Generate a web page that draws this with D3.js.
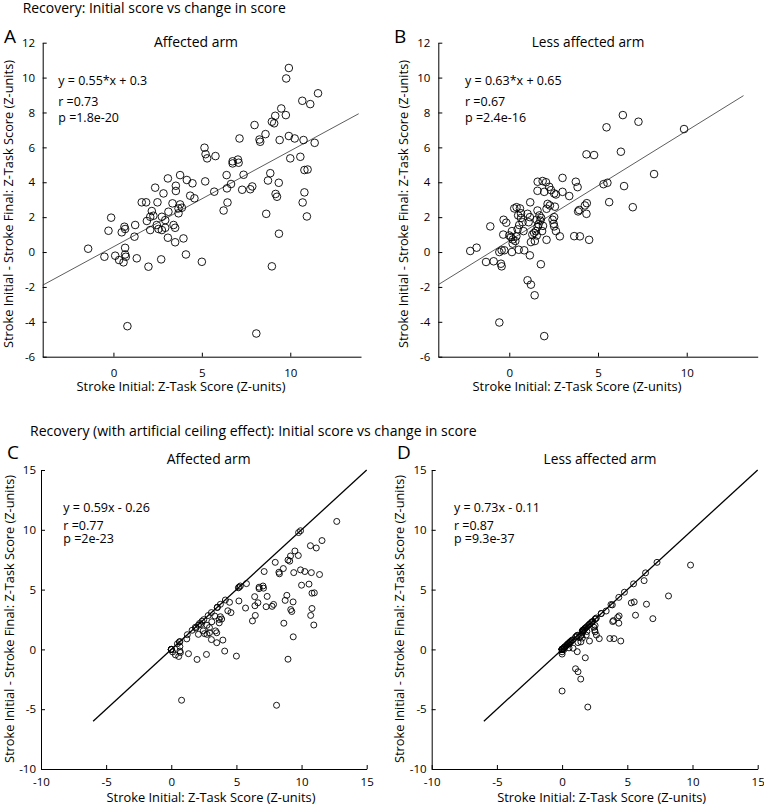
<!DOCTYPE html>
<html><head><meta charset="utf-8">
<script src="https://cdn.jsdelivr.net/npm/d3@7"></script>
<style>
body{margin:0;background:#fff}
svg{display:block}
text{font-family:"Open Sans",sans-serif;fill:#000}
</style>
</head><body>
<svg id="chart" width="764" height="805"></svg>
<script>
// ---------------- DATA ----------------
const affectedPts = [
[9.92,10.55],[9.77,9.95],[11.57,9.1],[10.68,8.67],[11.13,8.48],[9.49,8.23],[9.15,7.81],[9.75,7.85],[8.96,7.47],[9.09,7.38],
[7.98,7.28],[8.6,6.76],[8.26,6.45],[8.3,6.32],[7.13,6.51],[9.92,6.65],[10.25,6.51],[9.4,6.42],[10.75,6.42],[11.38,6.26],
[5.15,5.98],[5.21,5.61],[5.3,5.37],[5.77,5.5],[10.0,5.37],[10.57,5.46],[6.74,5.2],[7.04,5.3],[6.74,5.08],[7.08,5.12],
[10.8,4.7],[10.98,4.73],[6.4,4.41],[7.36,4.43],[8.87,4.52],[3.77,4.41],[3.08,4.22],[4.15,4.13],[4.47,3.94],[5.19,4.05],
[6.65,3.9],[6.42,3.65],[8.74,4.1],[9.35,3.97],[7.28,3.57],[7.74,3.6],[7.85,3.76],[2.36,3.69],[2.83,3.36],[3.53,3.8],
[3.53,3.5],[4.34,3.23],[4.58,3.08],[5.7,3.46],[10.8,3.42],[9.17,3.33],[9.25,3.17],
[1.6,2.85],[1.85,2.85],[2.49,2.85],[3.34,2.79],[3.77,2.73],[3.87,2.54],[3.68,2.5],[6.45,2.84],[6.23,2.38],[10.7,2.84],
[10.94,2.04],[8.64,2.19],[2.17,2.35],[3.68,2.22],[3.11,2.31],[2.08,2.02],[2.26,2.08],[2.74,2.02],[2.93,1.83],[-0.13,1.97],
[-0.28,1.22],[0.62,1.45],[0.66,1.32],[0.47,1.13],[1.23,1.55],[1.89,1.78],[2.45,1.55],[2.55,1.32],[2.93,1.39],[3.4,1.55],
[3.49,1.39],[2.08,1.26],[2.74,1.26],[1.19,0.88],[3.08,0.82],[3.49,0.56],[3.96,0.78],[9.36,1.05],
[-1.43,0.19],[0.66,0.24],[0.66,-0.14],[0.7,-0.27],[-0.51,-0.27],[0.1,-0.21],[0.32,-0.46],[0.57,-0.59],[1.32,-0.36],[2.7,-0.42],
[1.98,-0.84],[4.1,-0.14],[5.0,-0.56],[8.96,-0.82],[0.79,-4.25],[8.08,-4.67]
];
const lessAffectedPts = [
[9.85,7.05],[6.4,7.85],[7.28,7.47],[5.48,7.15],[4.35,5.6],[4.78,5.56],[6.29,5.75],[8.16,4.47],[5.31,3.89],[5.53,3.97],
[6.47,3.78],[3.0,4.25],[3.75,4.03],[3.85,3.72],[1.6,4.03],[1.88,4.07],[2.07,4.0],[1.59,3.51],[1.97,3.45],[2.25,3.74],
[2.35,3.55],[2.53,3.36],[2.63,3.3],[3.0,3.45],[3.38,3.21],
[5.63,2.86],[6.96,2.57],[4.37,2.8],[4.26,2.67],[3.94,2.41],[3.88,2.33],[4.35,2.19],[3.66,0.91],[3.98,0.9],[4.5,0.7],
[2.85,0.9],[2.63,1.2],[2.5,1.62],[2.53,1.47],[2.44,1.85],[2.53,2.0],[2.1,0.7],[2.16,2.76],[2.29,2.67],[2.1,2.48],
[2.57,2.6],[1.18,2.85],
[1.7,2.1],[1.8,1.95],[1.75,1.8],[1.65,1.6],[1.6,1.45],[1.9,1.5],[1.85,1.2],[1.5,1.2],[1.4,1.1],[1.3,1.0],[1.55,0.95],
[1.59,2.38],[1.54,1.85],[1.03,2.19],[1.16,2.0],[1.09,1.71],[1.22,0.57],[1.44,0.63],[1.16,-0.19],[1.78,-0.7],
[0.28,2.5],[0.41,2.57],[0.6,2.5],[0.66,2.22],[0.5,2.1],[0.66,1.95],[0.75,1.71],[0.56,1.55],[0.47,1.3],[0.8,1.2],
[0.15,1.2],[0.1,0.85],[0.2,0.72],[0.34,0.63],[0.19,0.48],[0.0,0.95],[0.4,0.9],
[-0.32,1.85],[-0.17,1.68],[-1.07,1.47],[-0.34,1.0],[-1.84,0.25],[-2.2,0.06],[-0.56,0.0],[-0.43,0.1],[-0.28,0.1],[0.15,0.0],
[0.53,0.13],[0.84,0.1],[-1.31,-0.57],[-0.88,-0.53],[-0.47,-0.67],[-0.43,-0.82],[1.03,-1.62],[1.22,-1.87],[1.43,-2.48],[-0.56,-4.04],
[1.97,-4.82]
];
const affectedCeilPts = [
[9.92,9.92],[9.77,9.77],[11.57,9.1],[10.68,8.67],[11.13,8.48],[9.49,8.23],[9.15,7.81],[9.75,7.85],[8.96,7.47],[9.09,7.38],
[7.98,7.28],[8.6,6.76],[8.26,6.45],[8.3,6.32],[7.13,6.51],[9.92,6.65],[10.25,6.51],[9.4,6.42],[10.75,6.42],[11.38,6.26],
[5.15,5.15],[5.21,5.21],[5.3,5.3],[5.77,5.5],[10.0,5.37],[10.57,5.46],[6.74,5.2],[7.04,5.3],[6.74,5.08],[7.08,5.12],
[10.8,4.7],[10.98,4.73],[6.4,4.41],[7.36,4.43],[8.87,4.52],[3.77,3.77],[3.08,3.08],[4.15,4.13],[4.47,3.94],[5.19,4.05],
[6.65,3.9],[6.42,3.65],[8.74,4.1],[9.35,3.97],[7.28,3.57],[7.74,3.6],[7.85,3.76],[2.36,2.36],[2.83,2.83],[3.53,3.53],
[3.53,3.5],[4.34,3.23],[4.58,3.08],[5.7,3.46],[10.8,3.42],[9.17,3.33],[9.25,3.17],[12.7,10.7],
[1.6,1.6],[1.85,1.85],[2.49,2.49],[3.34,2.79],[3.77,2.73],[3.87,2.54],[3.68,2.5],[6.45,2.84],[6.23,2.38],[10.7,2.84],
[10.94,2.04],[8.64,2.19],[2.17,2.17],[3.68,2.22],[3.11,2.31],[2.08,2.02],[2.26,2.08],[2.74,2.02],[2.93,1.83],[0,0],
[0,0],[0.62,0.62],[0.66,0.66],[0.47,0.47],[1.23,1.23],[1.89,1.78],[2.45,1.55],[2.55,1.32],[2.93,1.39],[3.4,1.55],
[3.49,1.39],[2.08,1.26],[2.74,1.26],[1.19,0.88],[3.08,0.82],[3.49,0.56],[3.96,0.78],[9.36,1.05],
[0,0],[0.66,0.24],[0.66,-0.14],[0.7,-0.27],[0,0],[0.1,-0.21],[0.32,-0.46],[0.57,-0.59],[1.32,-0.36],[2.7,-0.42],
[1.98,-0.84],[4.1,-0.14],[5.0,-0.56],[8.96,-0.82],[0.79,-4.25],[8.08,-4.67]
];
const lessAffectedCeilPts = [
[9.85,7.05],[6.4,6.4],[7.28,7.28],[5.48,5.48],[4.35,4.35],[4.78,4.78],[6.29,5.75],[8.16,4.47],[5.31,3.89],[5.53,3.97],
[6.47,3.78],[3.0,3.0],[3.75,3.75],[3.85,3.72],[1.6,1.6],[1.88,1.88],[2.07,2.07],[1.59,1.59],[1.97,1.97],[2.25,2.25],
[2.35,2.35],[2.53,2.53],[2.63,2.63],[3.0,3.0],[3.38,3.21],
[5.63,2.86],[6.96,2.57],[4.37,2.8],[4.26,2.67],[3.94,2.41],[3.88,2.33],[4.35,2.19],[3.66,0.91],[3.98,0.9],[4.5,0.7],
[2.85,0.9],[2.63,1.2],[2.5,1.62],[2.53,1.47],[2.44,1.85],[2.53,2.0],[2.1,0.7],[2.16,2.16],[2.29,2.29],[2.1,2.1],
[2.57,2.57],[1.18,1.18],
[1.7,1.7],[1.8,1.8],[1.75,1.75],[1.65,1.6],[1.6,1.45],[1.9,1.5],[1.85,1.2],[1.5,1.2],[1.4,1.1],[1.3,1.0],[1.55,0.95],
[1.59,1.59],[1.54,1.54],[1.03,1.03],[1.16,1.16],[1.09,1.09],[1.22,0.57],[1.44,0.63],[1.16,-0.19],[1.78,-0.7],
[0.28,0.28],[0.41,0.41],[0.6,0.6],[0.66,0.66],[0.5,0.5],[0.66,0.66],[0.75,0.75],[0.56,0.56],[0.47,0.47],[0.8,0.8],
[0.15,0.15],[0.1,0.1],[0.2,0.2],[0.34,0.34],[0.19,0.19],[0,0],[0.4,0.4],
[0,0],[0,0],[0,0],[0,0],[0,0],[0,0],[0,0],[0,0],[0,0],[0.15,0],
[0.53,0.13],[0.84,0.1],[0,0],[0,0],[0,-0.2],[0,-0.39],[1.03,-1.62],[1.22,-1.87],[1.43,-2.48],[0,-3.48],
[1.97,-4.82]
];

const sectionTitles = ["Recovery: Initial score vs change in score",
  "Recovery (with artificial ceiling effect): Initial score vs change in score"];
const panelLetters = ["A","B","C","D"];
const panelTitles = ["Affected arm","Less affected arm","Affected arm","Less affected arm"];
const panelStats = [
  ["y = 0.55*x + 0.3","r =0.73","p =1.8e-20"],
  ["y = 0.63*x + 0.65","r =0.67","p =2.4e-16"],
  ["y = 0.59x - 0.26","r =0.77","p =2e-23"],
  ["y = 0.73x - 0.11","r =0.87","p =9.3e-37"]
];
const xLabel = "Stroke Initial: Z-Task Score (Z-units)";
const yLabel = "Stroke Initial - Stroke Final: Z-Task Score (Z-units)";
const xTicksTop = [0,5,10];
const yTicksTop = [-6,-4,-2,0,2,4,6,8,10,12];
const ticksBottom = [-10,-5,0,5,10,15];
const domainTopX = [-4,14], domainTopY = [-6,12], domainBottom = [-10,15];
// fitted / reference lines: slope, intercept, x range
const lineA = {slope:0.55, intercept:0.3, from:-4, to:13.87};
const lineB = {slope:0.63, intercept:0.65, from:-4, to:13.2};
const lineC = {slope:1, intercept:0, from:-6, to:15};
const lineD = {slope:1, intercept:0, from:-6, to:15};

// ---------------- LAYOUT ----------------
const svg = d3.select("#chart");
const panels = [
  {pts:affectedPts, line:lineA, xd:domainTopX, yd:domainTopY, xt:xTicksTop, yt:yTicksTop,
   px:[42.7,361], py:[356.7,42.7], r:3.8, lw:0.8, lc:"#333", tickPad:7.5,
   letter:[4,43], title:[196,46.5], stats:[58.3,[85,106,122]], statW:89, titleW:84,
   xlab:[181,390.5], ylab:[13,204], xtickY:20.3},
  {pts:lessAffectedPts, line:lineB, xd:domainTopX, yd:domainTopY, xt:xTicksTop, yt:yTicksTop,
   px:[438.3,757.7], py:[356.7,42.7], r:3.8, lw:0.8, lc:"#333", tickPad:8,
   letter:[394,43], title:[588,46.5], stats:[465,[85,106,122]], statW:96.7, titleW:112.6,
   xlab:[577,390.5], ylab:[408,204], xtickY:20.3},
  {pts:affectedCeilPts, line:lineC, xd:domainBottom, yd:domainBottom, xt:ticksBottom, yt:ticksBottom,
   px:[41,366.7], py:[769,470], r:3.0, lw:1.3, lc:"#000", tickPad:5,
   letter:[7,459], title:[208.7,463.5], stats:[63.3,[511.5,530,543]], statW:86.7, titleW:84,
   xlab:[211,801.5], ylab:[14,619], xtickY:16.8},
  {pts:lessAffectedCeilPts, line:lineD, xd:domainBottom, yd:domainBottom, xt:ticksBottom, yt:ticksBottom,
   px:[431.7,757.7], py:[769,470], r:3.0, lw:1.3, lc:"#000", tickPad:5,
   letter:[397,459], title:[600,463.5], stats:[454,[511.5,530,543]], statW:86,titleW:113,
   xlab:[601.7,801.5], ylab:[404,619], xtickY:16.8}
];

function fitWidth(sel, w){
  const m = sel.node().getComputedTextLength();
  const fs = parseFloat(sel.attr("font-size"));
  sel.attr("font-size", (fs*w/m).toFixed(2));
  return fs*w/m;
}

// section titles
fitWidth(svg.append("text").attr("x",22.7).attr("y",13).attr("font-size",13).text(sectionTitles[0]), 263.3);
fitWidth(svg.append("text").attr("x",30).attr("y",436).attr("font-size",13).text(sectionTitles[1]), 446.7);

panels.forEach((p,i)=>{
  const x = d3.scaleLinear().domain(p.xd).range(p.px);
  const y = d3.scaleLinear().domain(p.yd).range(p.py);
  const g = svg.append("g");

  // axes
  const ax = g.append("g").attr("transform",`translate(0,${p.py[0]})`)
    .call(d3.axisBottom(x).tickValues(p.xt).tickSizeInner(-4).tickSizeOuter(0).tickFormat(d3.format("d")));
  ax.selectAll("text").attr("dy",null).attr("y",p.xtickY).attr("font-size",11.5).attr("font-family","Open Sans").text(d=>d<0?"-"+Math.abs(d):d);
  const ay = g.append("g").attr("transform",`translate(${p.px[0]},0)`)
    .call(d3.axisLeft(y).tickValues(p.yt).tickSizeInner(-4).tickSizeOuter(0).tickPadding(p.tickPad));
  ay.selectAll("text").attr("font-size",11.5).attr("font-family","Open Sans").text(d=>d<0?"-"+Math.abs(d):d);
  [ax,ay].forEach(a=>{a.selectAll("path,line").attr("stroke","#000").attr("stroke-width",1);});

  // line
  const L = p.line;
  g.append("line")
    .attr("x1",x(L.from)).attr("y1",y(L.slope*L.from+L.intercept))
    .attr("x2",x(L.to)).attr("y2",y(L.slope*L.to+L.intercept))
    .attr("stroke",p.lc).attr("stroke-width",p.lw);

  // points
  g.append("g").selectAll("circle").data(p.pts).join("circle")
    .attr("cx",d=>x(d[0])).attr("cy",d=>y(d[1])).attr("r",p.r)
    .attr("fill","none").attr("stroke","#000").attr("stroke-width",0.9);

  // letter
  g.append("text").attr("x",p.letter[0]).attr("y",p.letter[1]).attr("font-size",19).text(panelLetters[i]);
  // title
  fitWidth(g.append("text").attr("x",p.title[0]).attr("y",p.title[1]).attr("text-anchor","middle")
    .attr("font-size",14).text(panelTitles[i]), p.titleW);
  // stats
  let fs = 12;
  panelStats[i].forEach((s,k)=>{
    const t = g.append("text").attr("x",p.stats[0]).attr("y",p.stats[1][k]).attr("font-size",fs).text(s);
    if(k===0) fs = fitWidth(t, p.statW);
  });
  // axis labels
  fitWidth(g.append("text").attr("x",p.xlab[0]).attr("y",p.xlab[1]).attr("text-anchor","middle")
    .attr("font-size",12).text(xLabel), 209);
  fitWidth(g.append("text").attr("transform",`translate(${p.ylab[0]},${p.ylab[1]}) rotate(-90)`)
    .attr("text-anchor","middle").attr("font-size",12).text(yLabel), 288);
});
</script>
</body></html>
